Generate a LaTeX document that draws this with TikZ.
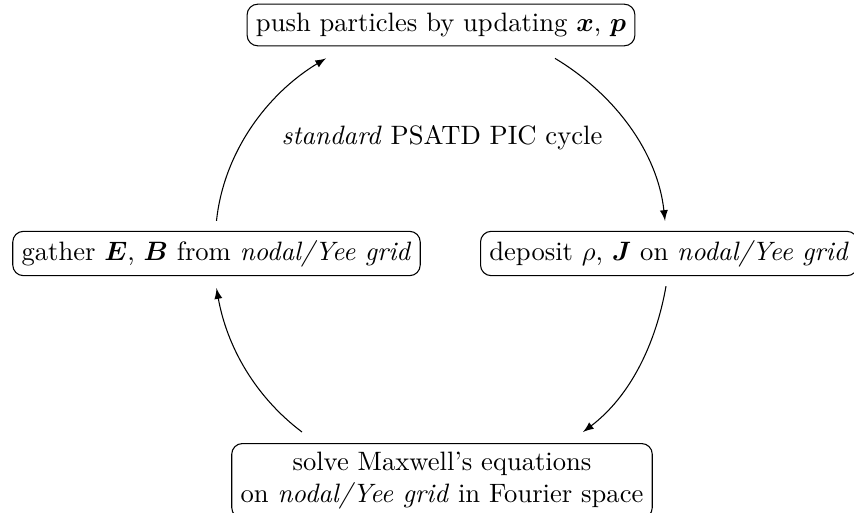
\documentclass[tikz,border=0pt]{standalone}
\usepackage{amsmath}
\usepackage{bm}
\usetikzlibrary{calc,arrows}
\begin{document}
\begin{tikzpicture}[x=0.376pt,y=0.376pt,
  stage/.style={draw,rounded corners=4pt,align=center},
  cyc/.style={-latex,thin,looseness=0.9}]
\useasboundingbox (0,0) rectangle (854,512);
\node[stage] (top) at (441,487) {push particles by updating $\bm{x}$, $\bm{p}$};
\node[stage] (left) at (216.5,258.5) {gather $\bm{E}$, $\bm{B}$ from \textit{nodal/Yee grid}};
\node[stage,anchor=west] (right) at (480,258.5) {deposit $\rho$, $\bm{J}$ on \textit{nodal/Yee grid}};
\node[stage,anchor=north] (bottom) at (442,69) {solve Maxwell's equations\\on \textit{nodal/Yee grid} in Fourier space};
\node (label) at (442,374) {\textit{standard} PSATD PIC cycle};
\draw[cyc] ($(top.south)+(114,-12)$) to[out=-31,in=96] ($(right.north west)+(185,10)$);
\draw[cyc] ($(right.south west)+(186,-10)$) to[out=-100,in=37] ($(bottom.north)+(141,11)$);
\draw[cyc] ($(bottom.north)+(-140,11)$) to[out=143,in=-80] ($(left.south)+(0,-12)$);
\draw[cyc] ($(left.north)+(0,10)$) to[out=84,in=211] ($(top.south)+(-115,-12)$);
\end{tikzpicture}
\end{document}
